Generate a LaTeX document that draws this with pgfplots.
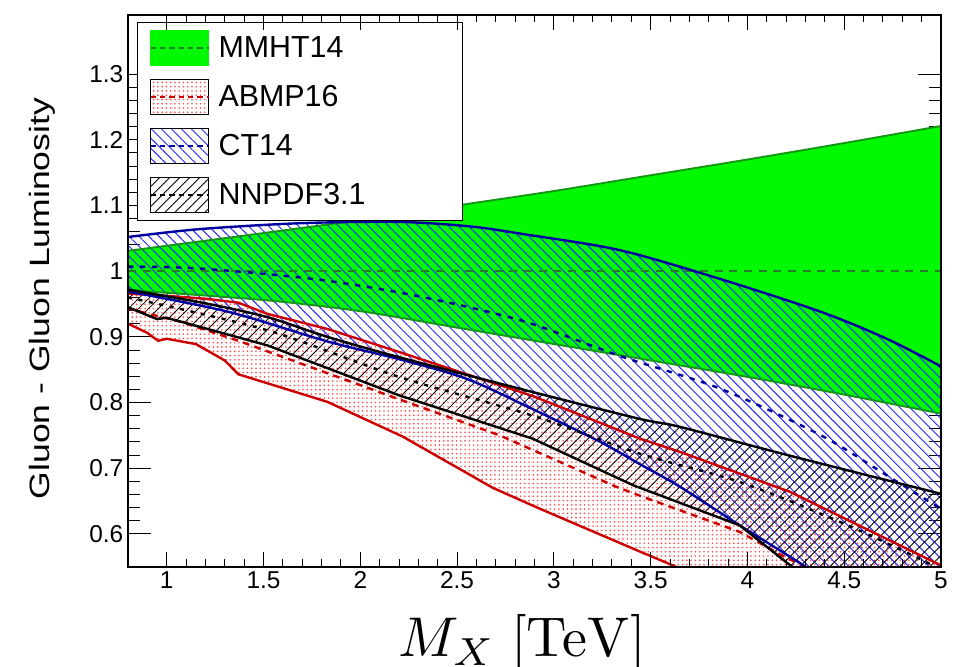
\documentclass[border=0pt]{standalone}
\usepackage[no-math]{fontspec}
\setmainfont{Liberation Sans}
\usepackage{graphicx}
\usepackage{pgfplots}
\pgfplotsset{compat=1.18}
\usepackage{pgfplotstable}
\usepgfplotslibrary{fillbetween}
\usetikzlibrary{patterns.meta}

\definecolor{mgreen}{RGB}{0,248,0}
\definecolor{mgreenedge}{RGB}{20,150,20}
\definecolor{mgreendash}{RGB}{40,125,40}
\definecolor{hblue}{RGB}{40,40,255}
\definecolor{navy}{RGB}{0,0,160}
\definecolor{rline}{RGB}{204,0,0}
\definecolor{rdot}{RGB}{255,80,80}

\tikzset{
  ctpat/.style={pattern={Lines[angle=-45,distance=5.3pt,line width=0.7pt]}, pattern color=hblue},
  nnpat/.style={pattern={Lines[angle=45,distance=5.3pt,line width=0.65pt]}, pattern color=black},
  abpat/.style={pattern={Dots[distance=3.2pt,radius=0.7pt]}, pattern color=rdot},
}

% MMHT14
\pgfplotstableread{
x y
0.8 1.031
1.5 1.058
2.0 1.078
2.5 1.100
3.0 1.122
3.5 1.146
4.0 1.170
4.5 1.195
5.0 1.221
}\mmhtU
\pgfplotstableread{
x y
0.8 0.971
1.5 0.956
2.0 0.939
2.5 0.914
3.0 0.889
3.5 0.864
4.0 0.839
4.5 0.812
5.0 0.783
}\mmhtL
\pgfplotstableread{
x y
0.8 1.0
5.0 1.0
}\mmhtC
% CT14
\pgfplotstableread{
x y
0.8 1.052
1.17 1.064
1.69 1.073
2.2 1.075
2.57 1.068
2.83 1.057
3.34 1.032
3.86 0.988
4.38 0.938
4.72 0.897
5.0 0.855
}\ctU
\pgfplotstableread{
x y
0.8 1.007
1.17 1.004
1.76 0.988
2.28 0.963
2.83 0.925
3.34 0.871
3.86 0.821
4.38 0.750
4.72 0.689
5.0 0.638
}\ctC
\pgfplotstableread{
x y
0.8 0.969
1.32 0.938
1.83 0.893
2.2 0.866
2.55 0.836
2.89 0.790
3.24 0.740
3.445 0.706
3.65 0.672
3.96 0.613
4.29 0.552
4.6 0.49
5.0 0.41
}\ctL
% NNPDF3.1
\pgfplotstableread{
x y
0.8 0.972
1.2 0.951
1.52 0.930
1.83 0.900
2.2 0.869
2.89 0.816
3.445 0.775
3.65 0.763
4.22 0.719
5.0 0.661
}\nnU
\pgfplotstableread{
x y
0.8 0.960
1.52 0.910
2.2 0.839
2.89 0.780
3.445 0.722
3.96 0.679
4.48 0.618
4.89 0.562
5.0 0.545
}\nnC
\pgfplotstableread{
x y
0.8 0.945
0.95 0.927
1.0 0.929
1.52 0.887
2.2 0.811
2.89 0.745
3.41 0.674
3.96 0.613
4.2 0.557
4.5 0.49
5.0 0.39
}\nnL
% ABMP16
\pgfplotstableread{
x y
0.8 0.966
0.97 0.963
1.2 0.958
1.37 0.952
1.52 0.935
1.83 0.912
2.2 0.877
2.89 0.810
3.445 0.745
3.65 0.725
4.22 0.664
5.0 0.552
}\abU
\pgfplotstableread{
x y
0.8 0.943
1.07 0.923
1.37 0.894
2.2 0.805
2.72 0.750
3.32 0.672
3.445 0.658
3.96 0.603
4.18 0.567
4.5 0.52
5.0 0.44
}\abC
\pgfplotstableread{
x y
0.8 0.920
0.9 0.906
0.955 0.894
1.0 0.897
1.15 0.889
1.3 0.864
1.37 0.843
1.83 0.801
2.22 0.748
2.685 0.670
2.93 0.638
3.445 0.573
3.615 0.552
4.0 0.50
5.0 0.37
}\abL

\begin{document}
\begin{tikzpicture}
\pgfplotsset{
  common/.style={
    scale only axis, width=609.75pt, height=413.8pt,
    xmin=0.8, xmax=5, ymin=0.55, ymax=1.39,
    xtick={1,1.5,2,2.5,3,3.5,4,4.5,5},
    ytick={0.6,0.7,0.8,0.9,1,1.1,1.2,1.3},
    tick align=inside,
    axis line style={line width=1.3pt},
    tick style={line width=0.7pt, black},
    /pgf/number format/assume math mode=true,
    ticklabel style={font=\fontsize{18.3}{20}\selectfont},
  }
}
\begin{axis}[common, name=ax,
  minor y tick num=4,
  major tick length=17pt, minor tick length=9pt,
  xtick style={draw=none},
  xlabel={\scalebox{4.2}{$M_X\ [\mathrm{TeV}]$}},
  xlabel style={at={(axis description cs:0.485,0)}, anchor=base, yshift=-67.7pt},
  ylabel={\scalebox{1.27}[1]{Gluon - Gluon Luminosity}},
  ylabel style={at={(axis description cs:-0.106,0.486)}, anchor=center, font=\fontsize{21}{24}\selectfont},
  legend style={at={(axis description cs:0.0111,0.9873)}, anchor=north west,
    draw=black, line width=0.8pt, fill=white,
    inner xsep=9pt, inner ysep=5.5pt, row sep=10pt, column sep=4.75pt,
    font=\fontsize{22.8}{24}\selectfont},
  legend cell align=left,
]
% boundaries (invisible, for fills)
\addplot[draw=none, forget plot, smooth, name path=mU] table {\mmhtU};
\addplot[draw=none, forget plot, smooth, name path=mL] table {\mmhtL};
\addplot[draw=none, forget plot, smooth, name path=cU] table {\ctU};
\addplot[draw=none, forget plot, smooth, name path=cL] table {\ctL};
\addplot[draw=none, forget plot, smooth, name path=nU] table {\nnU};
\addplot[draw=none, forget plot, name path=nL] table {\nnL};
\addplot[draw=none, forget plot, name path=aU] table {\abU};
\addplot[draw=none, forget plot, name path=aL] table {\abL};
% fills
\addplot[fill=mgreen, draw=none, forget plot] fill between[of=mU and mL];
\addplot[abpat, draw=none, forget plot] fill between[of=aU and aL];
\addplot[ctpat, draw=none, forget plot] fill between[of=cU and cL];
\addplot[nnpat, draw=none, forget plot] fill between[of=nU and nL];
% lines
\addplot[mgreenedge, line width=1.4pt, smooth, forget plot] table {\mmhtU};
\addplot[mgreenedge, line width=1.4pt, smooth, forget plot] table {\mmhtL};
\addplot[mgreendash, line width=1.6pt, dash pattern=on 6pt off 5pt, forget plot] table {\mmhtC};
\addplot[rline, line width=1.8pt, forget plot] table {\abU};
\addplot[rline, line width=1.8pt, forget plot] table {\abL};
\addplot[rline, line width=1.8pt, dash pattern=on 5pt off 4pt, forget plot] table {\abC};
\addplot[navy, line width=1.8pt, smooth, forget plot] table {\ctU};
\addplot[navy, line width=1.8pt, smooth, forget plot] table {\ctL};
\addplot[navy, line width=1.8pt, smooth, dash pattern=on 4pt off 5pt, forget plot] table {\ctC};
\addplot[black, line width=1.8pt, smooth, forget plot] table {\nnU};
\addplot[black, line width=1.8pt, forget plot] table {\nnL};
\addplot[black, line width=1.8pt, smooth, dash pattern=on 3pt off 5pt, forget plot] table {\nnC};
% legend
\addlegendimage{legend image code/.code={
  \fill[mgreen] (0pt,-13pt) rectangle (43.5pt,13pt);
  \draw[mgreendash, line width=1.5pt, dash pattern=on 4pt off 3pt] (0pt,0pt) -- (43.5pt,0pt);}}
\addlegendentry{\makebox[172pt][l]{MMHT14}}
\addlegendimage{legend image code/.code={
  \fill[abpat] (0pt,-13pt) rectangle (43.5pt,13pt);
  \draw[rline, line width=1.5pt, dash pattern=on 4pt off 3pt] (0pt,0pt) -- (43.5pt,0pt);}}
\addlegendentry{\makebox[172pt][l]{ABMP16}}
\addlegendimage{legend image code/.code={
  \fill[ctpat] (0pt,-13pt) rectangle (43.5pt,13pt);
  \draw[navy, line width=1.5pt, dash pattern=on 4pt off 3pt] (0pt,0pt) -- (43.5pt,0pt);}}
\addlegendentry{\makebox[172pt][l]{CT14}}
\addlegendimage{legend image code/.code={
  \fill[nnpat] (0pt,-13pt) rectangle (43.5pt,13pt);
  \draw[black, line width=1.5pt, dash pattern=on 4pt off 3pt] (0pt,0pt) -- (43.5pt,0pt);}}
\addlegendentry{\makebox[172pt][l]{NNPDF3.1}}
\end{axis}
% x ticks with their own (shorter) length
\begin{axis}[common,
  ytick=\empty, xticklabels={},
  minor x tick num=4,
  major tick length=11pt, minor tick length=5.5pt,
]
\end{axis}
\pgfresetboundingbox
\path[use as bounding box] ([shift={(-96pt,-75.2pt)}]ax.south west) rectangle ([shift={(13.5pt,11.25pt)}]ax.north east);
\end{tikzpicture}
\end{document}
